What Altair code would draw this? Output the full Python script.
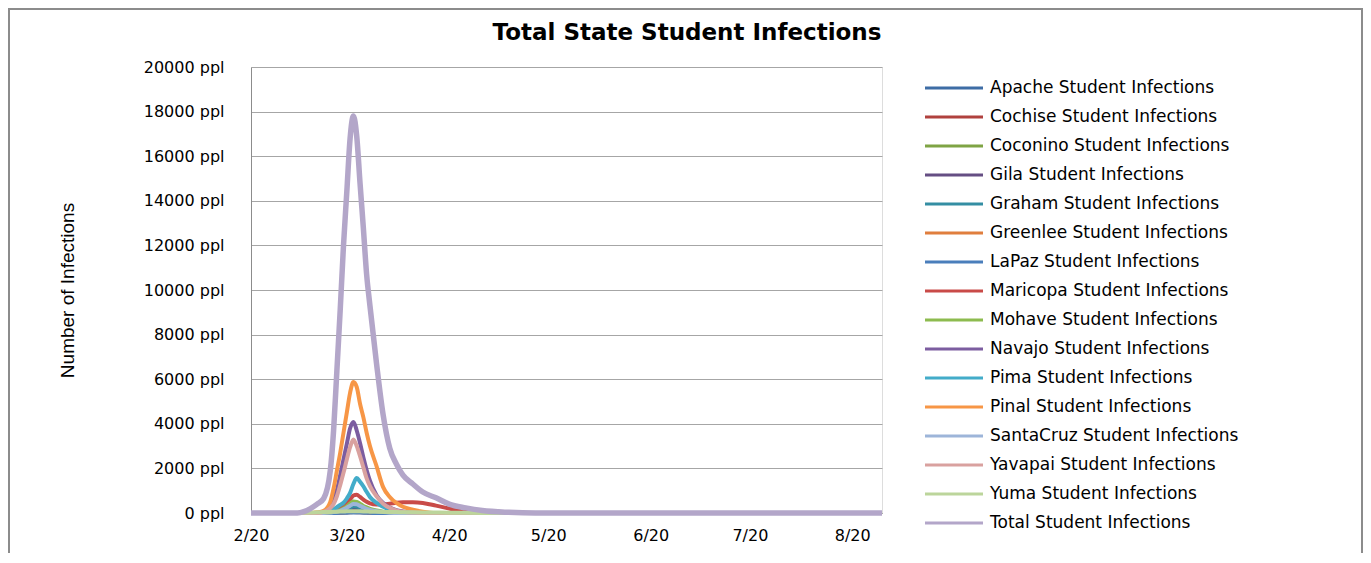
import altair as alt
import pandas as pd

DATES = ["2020-02-01", "2020-02-15", "2020-02-17", "2020-02-19", "2020-02-21", "2020-02-23",
         "2020-02-25", "2020-02-26", "2020-02-27", "2020-02-28", "2020-02-29", "2020-03-01",
         "2020-03-02", "2020-03-03", "2020-03-04", "2020-03-05", "2020-03-06", "2020-03-07",
         "2020-03-08", "2020-03-10", "2020-03-12", "2020-03-14", "2020-03-16", "2020-03-18",
         "2020-03-21", "2020-03-24", "2020-03-28", "2020-04-01", "2020-04-06", "2020-04-11",
         "2020-04-19", "2020-04-27", "2020-08-10"]

SERIES = ["Apache Student Infections", "Cochise Student Infections", "Coconino Student Infections",
          "Gila Student Infections", "Graham Student Infections", " Greenlee Student Infections",
          "LaPaz Student Infections", " Maricopa Student Infections", "Mohave Student Infections",
          "Navajo Student Infections", "Pima Student Infections", " Pinal Student Infections",
          "SantaCruz Student Infections", " Yavapai Student Infections", "Yuma  Student Infections",
          "Total  Student Infections"]

COLORS = ["#3E6DA5", "#B0413E", "#7FA444", "#654E83", "#348EA3", "#E07E3E",
          "#4A7EBB", "#C94B48", "#8DBB4F", "#7C5DA0", "#43ACC9", "#F79646",
          "#9DB5D9", "#D9A19F", "#BCD59B", "#B3A6C9"]

apache    = [0, 0, 0, 0, 0, 0, 3, 6, 10, 15, 25, 35, 50, 60, 58, 50, 40, 30, 20, 12, 6, 0, 0, 0, 0, 0, 0, 0, 0, 0, 0, 0, 0]
cochise   = [0, 0, 0, 0, 0, 0, 5, 10, 18, 28, 45, 65, 85, 100, 95, 80, 60, 45, 35, 20, 10, 0, 0, 0, 0, 0, 0, 0, 0, 0, 0, 0, 0]
coconino  = [0, 0, 0, 0, 0, 0, 10, 15, 25, 40, 65, 100, 130, 150, 145, 120, 95, 70, 50, 30, 15, 5, 0, 0, 0, 0, 0, 0, 0, 0, 0, 0, 0]
gila      = [0, 0, 0, 0, 0, 0, 10, 20, 35, 55, 90, 130, 180, 210, 200, 170, 130, 100, 70, 40, 20, 10, 0, 0, 0, 0, 0, 0, 0, 0, 0, 0, 0]
graham    = [0, 0, 0, 0, 0, 0, 15, 30, 45, 75, 120, 180, 250, 300, 290, 240, 190, 140, 100, 60, 30, 10, 0, 0, 0, 0, 0, 0, 0, 0, 0, 0, 0]
greenlee  = [0, 0, 0, 0, 0, 0, 2, 4, 7, 10, 16, 24, 32, 40, 38, 32, 25, 18, 12, 6, 3, 0, 0, 0, 0, 0, 0, 0, 0, 0, 0, 0, 0]
lapaz     = [0, 0, 0, 0, 0, 0, 1, 3, 5, 7, 10, 15, 20, 25, 24, 20, 15, 10, 7, 4, 2, 0, 0, 0, 0, 0, 0, 0, 0, 0, 0, 0, 0]
maricopa  = [0, 0, 0, 0, 0, 0, 60, 100, 150, 220, 300, 450, 600, 780, 820, 720, 600, 500, 430, 380, 390, 420, 460, 480, 480, 450, 330, 200, 70, 20, 0, 0, 0]
mohave    = [0, 0, 0, 0, 0, 0, 30, 50, 80, 130, 200, 300, 420, 520, 500, 420, 320, 250, 190, 110, 60, 30, 10, 0, 0, 0, 0, 0, 0, 0, 0, 0, 0]
navajo    = [0, 0, 0, 0, 0, 60, 280, 600, 1030, 1700, 2400, 3100, 3800, 4080, 3700, 3140, 2500, 1930, 1450, 800, 450, 250, 130, 70, 20, 0, 0, 0, 0, 0, 0, 0, 0]
pima      = [0, 0, 0, 0, 0, 20, 100, 170, 260, 360, 460, 650, 900, 1300, 1570, 1400, 1200, 950, 720, 450, 280, 140, 70, 30, 0, 0, 0, 0, 0, 0, 0, 0, 0]
pinal     = [0, 0, 0, 0, 30, 100, 500, 1100, 1900, 2700, 3600, 4500, 5400, 5870, 5650, 4900, 4300, 3600, 3000, 2100, 1160, 720, 450, 280, 150, 60, 0, 0, 0, 0, 0, 0, 0]
santacruz = [0, 0, 0, 0, 0, 0, 20, 40, 60, 100, 160, 240, 330, 400, 390, 320, 250, 190, 140, 80, 40, 15, 0, 0, 0, 0, 0, 0, 0, 0, 0, 0, 0]
yavapai   = [0, 0, 0, 0, 0, 50, 220, 400, 750, 1250, 1800, 2400, 2950, 3300, 3000, 2550, 2050, 1550, 1200, 750, 420, 230, 120, 60, 20, 0, 0, 0, 0, 0, 0, 0, 0]
yuma      = [0, 0, 10, 20, 30, 40, 50, 55, 60, 65, 70, 75, 80, 80, 80, 75, 70, 65, 60, 55, 50, 45, 40, 35, 30, 25, 20, 15, 10, 5, 0, 0, 0]
total     = [0, 0, 60, 200, 400, 650, 1900, 3700, 6400, 9100, 12000, 14400, 16800, 17800, 16900, 14800, 12800, 10700, 9300, 6700, 4400, 2900, 2200, 1700, 1300, 940, 680, 400, 230, 110, 30, 0, 0]

VALUES = [apache, cochise, coconino, gila, graham, greenlee, lapaz, maricopa, mohave,
          navajo, pima, pinal, santacruz, yavapai, yuma, total]

Y_TICKS = [0, 2000, 4000, 6000, 8000, 10000, 12000, 14000, 16000, 18000, 20000]
TITLE = "Total State Student Infections"
Y_TITLE = "Number of Infections"

rows = []
for name, vals in zip(SERIES, VALUES):
    for d, v in zip(DATES, vals):
        rows.append({"date": d, "series": name, "value": v})
df = pd.DataFrame(rows)
legend_df = pd.DataFrame({"series": SERIES})

TOTAL_NAME = SERIES[-1]

color_scale = alt.Scale(domain=SERIES, range=COLORS)

x_enc = alt.X(
    "date:T",
    scale=alt.Scale(type="utc", domain=[alt.DateTime(year=2020, month=2, date=1, utc=True),
                                        alt.DateTime(year=2020, month=8, date=10, utc=True)]),
    axis=alt.Axis(
        values=[alt.DateTime(year=2020, month=m, date=1, utc=True) for m in range(2, 9)],
        format="%-m/%y", title=None, grid=False, ticks=False, labelPadding=14,
        labelFont="DejaVu Sans", labelFontSize=16, labelColor="black",
        domainColor="#8c8c8c", labelFlush=False,
    ),
)
y_enc = alt.Y(
    "value:Q",
    scale=alt.Scale(domain=[0, 20000]),
    axis=alt.Axis(
        values=Y_TICKS, labelExpr="datum.value + ' ppl'", title=Y_TITLE,
        titleFont="Liberation Sans", titleFontSize=19, titleFontWeight="normal",
        titleColor="black", titleX=-184, titleY=223, titleAngle=270, titleBaseline="middle",
        titleAlign="center",
        ticks=False, labelPadding=27, labelFont="DejaVu Sans", labelFontSize=16,
        labelColor="black", gridColor="#a6a6a6", domainColor="#8c8c8c",
    ),
)
color_enc = alt.Color("series:N", scale=color_scale, legend=None)

base = alt.Chart(df).encode(x=x_enc, y=y_enc, color=color_enc)
counties = base.transform_filter(alt.datum.series != TOTAL_NAME).mark_line(
    strokeWidth=4, interpolate="monotone")
total_line = base.transform_filter(alt.datum.series == TOTAL_NAME).mark_line(
    strokeWidth=5.5, interpolate="monotone")
lines = alt.layer(counties, total_line)

# Hand-built legend (one row per series)
leg_y = alt.Y("series:N", sort=SERIES,
              scale=alt.Scale(type="point", domain=SERIES, range=[21, 456], padding=0),
              axis=None)
leg_base = alt.Chart(legend_df)
leg_rules = leg_base.mark_rule(strokeWidth=3).encode(
    x=alt.value(674), x2=alt.value(732), y=leg_y, color=color_enc)
leg_text = leg_base.mark_text(
    font="DejaVu Sans", fontSize=17, align="left", baseline="middle", color="black").encode(
    x=alt.value(739), y=leg_y, text="series:N")

one = alt.Data(values=[{"k": 1}])
frame = alt.Chart(one).mark_rect(fillOpacity=0, stroke="#8c8c8c", strokeWidth=2).encode(
    x=alt.value(-242), x2=alt.value(1111), y=alt.value(-58), y2=alt.value(500))
title = alt.Chart(one).mark_text(
    font="DejaVu Sans", fontSize=23, fontWeight="bold", align="center", baseline="middle",
    color="black").encode(x=alt.value(436), y=alt.value(-34), text=alt.value(TITLE))

chart = alt.layer(frame, lines, leg_rules, leg_text, title).resolve_scale(
    y="independent"
).properties(
    width=631, height=446,
    padding={"left": 243, "top": 59, "right": 481, "bottom": 40},
    autosize=alt.AutoSizeParams(type="none"),
).configure_view(stroke=None).configure(background="white")

chart.save("out.html", embed_options={"renderer": "svg", "actions": False})
